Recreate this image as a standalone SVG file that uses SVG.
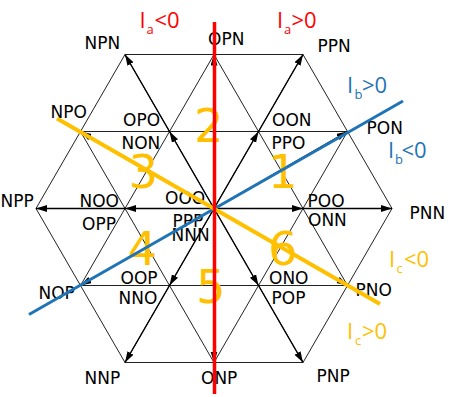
<svg xmlns="http://www.w3.org/2000/svg" width="476" height="397" viewBox="0 0 476 397">
<style>
.grid line{stroke:#222;stroke-width:1;fill:none}
.arr path{stroke:#000;stroke-width:1.4;fill:none;marker-end:url(#ah)}
.lab{font-family:"DejaVu Sans",sans-serif;font-size:17px;fill:#000}
.cl{font-family:"Open Sans",sans-serif;font-size:22px}
.sub{font-size:13px}
.num{font-family:"DejaVu Sans",sans-serif;font-size:46px;fill:#ffc000;text-anchor:middle}
.red{fill:#ff0000}.blue{fill:#1f74b6}.yel{fill:#ffc000}
</style>
<defs>
<marker id="ah" markerUnits="userSpaceOnUse" markerWidth="12" markerHeight="8" refX="11" refY="3.5" orient="auto">
<path d="M0,0 L11,3.5 L0,7 z" fill="#000"/>
</marker>
</defs>
<rect width="476" height="397" fill="#fff"/>
<g id="grid" class="grid">
<line x1="125" y1="54.5" x2="303" y2="54.5"/>
<line x1="80.5" y1="131.5" x2="347.5" y2="131.5"/>
<line x1="36" y1="208.5" x2="392" y2="208.5"/>
<line x1="80.5" y1="285.5" x2="347.5" y2="285.5"/>
<line x1="125" y1="362.5" x2="303" y2="362.5"/>
<line x1="36" y1="208.5" x2="125" y2="54.5"/>
<line x1="80.5" y1="285.5" x2="214" y2="54.5"/>
<line x1="125" y1="362.5" x2="303" y2="54.5"/>
<line x1="214" y1="362.5" x2="347.5" y2="131.5"/>
<line x1="303" y1="362.5" x2="392" y2="208.5"/>
<line x1="392" y1="208.5" x2="303" y2="54.5"/>
<line x1="347.5" y1="285.5" x2="214" y2="54.5"/>
<line x1="303" y1="362.5" x2="125" y2="54.5"/>
<line x1="214" y1="362.5" x2="80.5" y2="131.5"/>
<line x1="125" y1="362.5" x2="36" y2="208.5"/>
</g>
<g id="connectors" class="arr">
<path d="M214,208.5 L258.5,131.5"/><path d="M258.5,131.5 L303,54.5"/>
<path d="M214,208.5 L169.5,131.5"/><path d="M169.5,131.5 L125,54.5"/>
<path d="M214,208.5 L125,208.5"/><path d="M125,208.5 L36,208.5"/>
<path d="M214,208.5 L303,208.5"/><path d="M303,208.5 L392,208.5"/>
<path d="M214,208.5 L169.5,285.5"/><path d="M169.5,285.5 L125,362.5"/>
<path d="M214,208.5 L258.5,285.5"/><path d="M258.5,285.5 L303,362.5"/>
<path d="M214,208.5 L214,54.5"/>
<path d="M214,208.5 L214,362.5"/>
<path d="M214,208.5 L347.5,131.5"/>
<path d="M214,208.5 L347.5,285.5"/>
<path d="M214,208.5 L80.5,131.5"/>
<path d="M214,208.5 L80.5,285.5"/>
</g>
<g id="labels">
<text class="lab" x="84.5" y="49">NPN</text>
<text class="lab" x="208" y="45">OPN</text>
<text class="lab" x="317.5" y="52">PPN</text>
<text class="lab" x="50.5" y="118">NPO</text>
<text class="lab" x="123" y="126">OPO</text>
<text class="lab" x="121.5" y="149">NON</text>
<text class="lab" x="272" y="126">OON</text>
<text class="lab" x="271.5" y="149">PPO</text>
<text class="lab" x="366.5" y="134">PON</text>
<text class="lab" x="0.5" y="207">NPP</text>
<text class="lab" x="79.5" y="207">NOO</text>
<text class="lab" x="82" y="230">OPP</text>
<text class="lab" x="165" y="204">OOO</text>
<text class="lab" x="172.5" y="227">PPP</text>
<text class="lab" x="171.5" y="241">NNN</text>
<text class="lab" x="307.5" y="207">POO</text>
<text class="lab" x="308" y="226">ONN</text>
<text class="lab" x="409.5" y="219">PNN</text>
<text class="lab" x="269" y="284">ONO</text>
<text class="lab" x="271.5" y="304">POP</text>
<text class="lab" x="355.5" y="296">PNO</text>
<text class="lab" x="316.5" y="382">PNP</text>
<text class="lab" x="120.5" y="284">OOP</text>
<text class="lab" x="118.5" y="304">NNO</text>
<text class="lab" x="38.5" y="299">NOP</text>
<text class="lab" x="84.5" y="384">NNP</text>
<text class="lab" x="201" y="384">ONP</text>
</g>
<g id="sectors">
<text class="num" x="283" y="188">1</text>
<text class="num" x="209" y="142">2</text>
<text class="num" x="143.5" y="188">3</text>
<text class="num" x="142.5" y="265">4</text>
<text class="num" x="211" y="303">5</text>
<text class="num" x="283" y="265">6</text>
</g>
<g id="current-lines">
<line x1="29" y1="314.5" x2="403" y2="101" stroke="#1f74b6" stroke-width="3"/>
<line x1="57" y1="118.5" x2="380" y2="304" stroke="#ffc000" stroke-width="4"/>
<line x1="214.5" y1="22" x2="214.5" y2="394" stroke="#ff0000" stroke-width="3.5"/>
</g>
<g id="current-labels">
<text class="cl red"><tspan x="139.5" y="28">I</tspan><tspan class="sub" x="146.5" y="34">a</tspan><tspan x="154.5" y="28">&lt;0</tspan></text>
<text class="cl red"><tspan x="277" y="28">I</tspan><tspan class="sub" x="284" y="34">a</tspan><tspan x="291.5" y="28">&gt;0</tspan></text>
<text class="cl blue"><tspan x="347" y="93">I</tspan><tspan class="sub" x="354.5" y="99">b</tspan><tspan x="362" y="93">&gt;0</tspan></text>
<text class="cl blue"><tspan x="388" y="158">I</tspan><tspan class="sub" x="395" y="164">b</tspan><tspan x="401.5" y="158">&lt;0</tspan></text>
<text class="cl yel"><tspan x="389" y="267">I</tspan><tspan class="sub" x="396.5" y="273">c</tspan><tspan x="404" y="267">&lt;0</tspan></text>
<text class="cl yel"><tspan x="347" y="339">I</tspan><tspan class="sub" x="355" y="345">c</tspan><tspan x="362" y="339">&gt;0</tspan></text>
</g>
</svg>
